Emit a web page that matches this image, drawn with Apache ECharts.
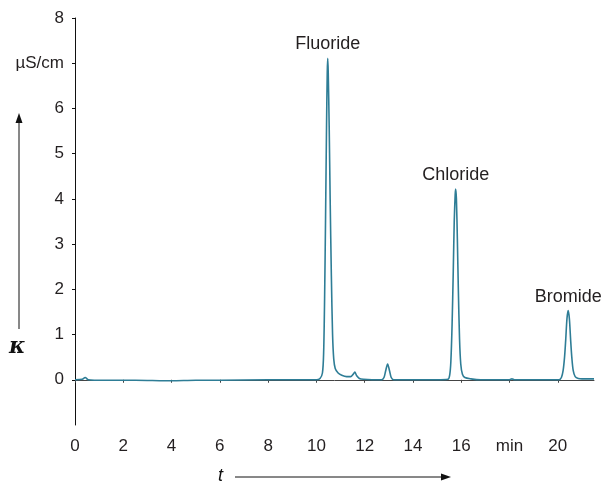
<!DOCTYPE html>
<html>
<head>
<meta charset="utf-8">
<script src="https://cdn.jsdelivr.net/npm/echarts@6/dist/echarts.min.js"></script>
<style>html,body{margin:0;padding:0;background:#fff}#c{width:606px;height:482px}</style>
</head>
<body>
<div id="c"></div>
<script>
// Time (min) and conductivity (µS/cm)
var times = [0, 0.3, 0.42, 0.55, 0.8, 2, 3, 3.5, 4, 5, 6, 8, 9, 10, 10.15, 10.25, 10.3, 10.34, 10.38, 10.42, 10.45, 10.47, 10.49, 10.53, 10.57, 10.62, 10.67, 10.72, 10.78, 10.9, 11.05, 11.25, 11.42, 11.52, 11.59, 11.67, 11.78, 11.95, 12.3, 12.7, 12.8, 12.87, 12.95, 13.03, 13.1, 13.2, 14, 15, 15.45, 15.52, 15.57, 15.62, 15.67, 15.71, 15.75, 15.77, 15.8, 15.84, 15.88, 15.93, 15.98, 16.05, 16.15, 16.4, 16.8, 17.5, 18.0, 18.1, 18.2, 19, 19.8, 20.05, 20.15, 20.22, 20.28, 20.33, 20.38, 20.43, 20.48, 20.53, 20.58, 20.64, 20.72, 20.85, 21.0, 21.5];
var conductivity = [0, 0.01, 0.05, 0.0, -0.01, -0.01, -0.015, -0.02, -0.02, -0.01, -0.01, 0, 0, 0, 0.03, 0.15, 0.6, 1.8, 3.6, 5.6, 6.8, 7.11, 6.8, 5.6, 4.0, 2.3, 1.0, 0.45, 0.25, 0.15, 0.1, 0.07, 0.07, 0.12, 0.17, 0.09, 0.03, 0.01, 0.0, 0.0, 0.05, 0.2, 0.35, 0.2, 0.05, 0.0, 0.0, 0.0, 0.01, 0.1, 0.4, 1.2, 2.4, 3.5, 4.1, 4.22, 4.0, 3.1, 2.0, 0.9, 0.35, 0.12, 0.05, 0.02, 0.0, 0.0, 0.0, 0.02, 0.0, 0.0, 0.0, 0.0, 0.05, 0.2, 0.5, 0.9, 1.35, 1.53, 1.35, 0.9, 0.5, 0.2, 0.07, 0.03, 0.02, 0.02];
var peakNames = ['Fluoride', 'Chloride', 'Bromide'];
var peakTimes = [10.47, 15.77, 20.43];
var peakValues = [7.11, 4.22, 1.53];
var xTicks = [0, 2, 4, 6, 8, 10, 12, 14, 16, 18, 20];
var xTickLabels = ['0', '2', '4', '6', '8', '10', '12', '14', '16', 'min', '20'];
var yTicks = [0, 1, 2, 3, 4, 5, 6, 7, 8];
var yTickLabels = ['0', '1', '2', '3', '4', '5', '6', 'µS/cm', '8'];

var txt = '#231f20';
var font = 'Liberation Sans, Arial, sans-serif';
var chart = echarts.init(document.getElementById('c'));
chart.setOption({
  animation: false,
  grid: {left: 75, right: 12, top: 18, bottom: 57},
  xAxis: {
    type: 'value', min: 0, max: 21.5, offset: 4,
    axisLine: {lineStyle: {color: '#444', width: 1}},
    axisTick: {length: 3, lineStyle: {color: '#444'}, customValues: xTicks},
    axisLabel: {customValues: xTicks, color: txt, fontSize: 17, fontFamily: font, margin: 9,
      formatter: function (v) { var i = xTicks.indexOf(v); return i >= 0 ? xTickLabels[i] : ''; }},
    splitLine: {show: false}
  },
  yAxis: {
    type: 'value', min: -1, max: 8,
    axisLine: {show: true, lineStyle: {color: '#111', width: 1}},
    axisTick: {show: true, length: 3, lineStyle: {color: '#111'}, customValues: yTicks},
    axisLabel: {customValues: yTicks, color: txt, fontSize: 17, fontFamily: font, margin: 11,
      formatter: function (v) { var i = yTicks.indexOf(v); return i >= 0 ? yTickLabels[i] : ''; }},
    splitLine: {show: false}
  },
  series: [{
    type: 'line',
    data: times.map(function (t, i) { return [t, conductivity[i]]; }),
    showSymbol: false,
    smooth: 0.3,
    lineStyle: {color: '#2e7d96', width: 1.6},
    markPoint: {
      symbol: 'circle', symbolSize: 0,
      label: {show: true, position: 'top', distance: 5, color: txt, fontSize: 18, fontFamily: font, formatter: '{b}'},
      data: peakNames.map(function (n, i) { return {name: n, coord: [peakTimes[i], peakValues[i]]}; })
    }
  }],
  graphic: [
    {type: 'line', shape: {x1: 19, y1: 329, x2: 19, y2: 122}, style: {stroke: '#111', lineWidth: 1}},
    {type: 'polygon', shape: {points: [[19, 113], [15.5, 123], [22.5, 123]]}, style: {fill: '#111'}},
    {type: 'text', left: 9, top: 336, style: {text: 'κ', font: 'italic bold 22px "DejaVu Serif", serif', fill: '#111'}},
    {type: 'line', shape: {x1: 235, y1: 477, x2: 442, y2: 477}, style: {stroke: '#111', lineWidth: 1}},
    {type: 'polygon', shape: {points: [[451, 477], [441, 473.5], [441, 480.5]]}, style: {fill: '#111'}},
    {type: 'text', left: 218, top: 467, style: {text: 't', font: 'italic 18px "Liberation Sans", Arial, sans-serif', fill: '#111'}}
  ]
});
</script>
</body>
</html>
